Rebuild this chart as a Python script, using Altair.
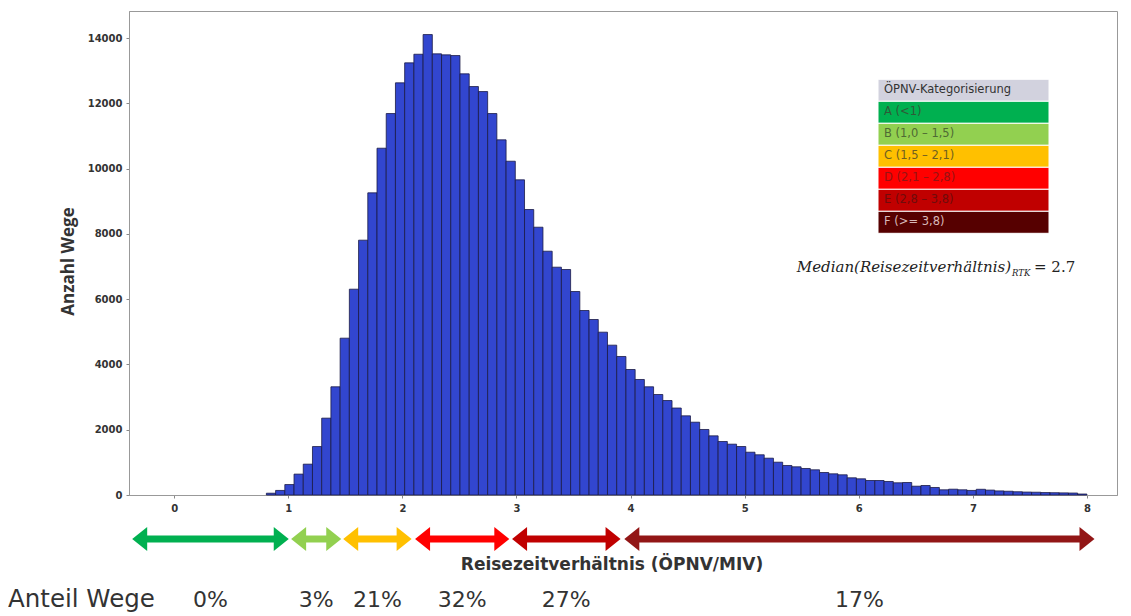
import altair as alt
import pandas as pd

# ---------------- data ----------------
counts = [55, 140, 320, 640, 945, 1485, 2355, 3315, 4805, 6306,
          7808, 9258, 10626, 11688, 12629, 13241, 13505, 14108, 13517, 13486,
          13465, 12904, 12515, 12362, 11688, 10882, 10227, 9657, 8747, 8205,
          7470, 6980, 6909, 6235, 5653, 5377, 4989, 4591, 4244, 3845,
          3539, 3315, 3079, 2895, 2665, 2426, 2231, 2007, 1813, 1639,
          1557, 1486, 1311, 1232, 1128, 1005, 904, 864, 812, 772,
          689, 649, 619, 527, 496, 444, 444, 414, 374, 383,
          270, 291, 230, 159, 178, 159, 140, 175, 150, 125,
          115, 100, 90, 85, 75, 70, 65, 60, 30]
BIN_START = 0.808
BIN_WIDTH = 0.0808

x_ticks = [0, 1, 2, 3, 4, 5, 6, 7, 8]
y_ticks = [0, 2000, 4000, 6000, 8000, 10000, 12000, 14000]

legend_title = "ÖPNV-Kategorisierung"
cat_labels = ["A (<1)", "B (1,0 – 1,5)", "C (1,5 – 2,1)", "D (2,1 – 2,8)",
              "E (2,8 – 3,8)", "F (>= 3,8)"]
cat_colors = ["#00B050", "#92D050", "#FFC000", "#FF0000", "#C00000", "#560000"]
cat_text_colors = ["#2f5a38", "#4f6a34", "#6f5f20", "#961414", "#6e0c0c", "#d8b8b8"]

arrow_colors = ["#00B050", "#92D050", "#FFC000", "#FF0000", "#C00000", "#921616"]
arrow_from = [-0.368, 1.025, 1.481, 2.111, 2.961, 3.945]
arrow_to = [1.004, 1.464, 2.081, 2.937, 3.912, 8.066]
shares = ["0%", "3%", "21%", "32%", "27%", "17%"]

median_value = 2.7

# ---------------- tables ----------------
bars = pd.DataFrame({
    "x0": [BIN_START + i * BIN_WIDTH for i in range(len(counts))],
    "count": counts,
})
bars["x1"] = bars["x0"] + BIN_WIDTH

legend_df = pd.DataFrame({
    "row": list(range(len(cat_labels) + 1)),
    "label": [legend_title] + cat_labels,
    "fill": ["#D2D2DE"] + cat_colors,
    "tcolor": ["#333333"] + cat_text_colors,
})

arrows = pd.DataFrame({
    "from": arrow_from, "to": arrow_to, "color": arrow_colors, "share": shares,
})

# layout constants (pixels, plot coordinates)
W, H = 988, 484
X_DOMAIN = [-0.396, 8.263]
Y_DOMAIN = [0, 14830]
ARROW_Y = 528
LEG_X0, LEG_X1, LEG_Y0, LEG_ROW = 749, 920, 68.3, 22

xs = alt.Scale(domain=X_DOMAIN, nice=False, zero=False)
ys = alt.Scale(domain=Y_DOMAIN, nice=False)

LABEL_FONT = "DejaVu Sans"

hist = alt.Chart(bars).mark_bar(
    fill="#3246CF", stroke="#1a1a45", strokeWidth=0.8, opacity=1
).encode(
    x=alt.X("x0:Q", scale=xs, axis=alt.Axis(
        values=x_ticks, title=None, grid=False, labelFont=LABEL_FONT,
        labelFontWeight="bold", labelFontSize=10, labelColor="#333",
        tickSize=3, tickColor="#888", domainColor="#999", labelPadding=5,
        format="d")),
    x2="x1:Q",
    y=alt.Y("count:Q", scale=ys, axis=alt.Axis(
        values=y_ticks, title="Anzahl Wege", grid=False, labelFont=LABEL_FONT,
        labelFontWeight="bold", labelFontSize=10, labelColor="#333",
        tickSize=3, tickColor="#888", domainColor="#999", labelPadding=4,
        format="d", titleFont="Open Sans", titleFontSize=17,
        titleFontWeight="bold", titleColor="#333", titleX=-61, titleY=250,
        titleAngle=270, titleAlign="center", titleBaseline="middle")),
    y2=alt.datum(0),
)

legend_rects = alt.Chart(legend_df).transform_calculate(
    py0=f"{LEG_Y0} + datum.row * {LEG_ROW}",
    py1=f"{LEG_Y0} + (datum.row + 1) * {LEG_ROW}",
).mark_rect(stroke="white", strokeWidth=1).encode(
    x=alt.value(LEG_X0), x2=alt.value(LEG_X1),
    y=alt.Y("py0:Q", scale=None), y2="py1:Q",
    fill=alt.Color("fill:N", scale=None),
)

legend_text = alt.Chart(legend_df).transform_calculate(
    py=f"{LEG_Y0} + (datum.row + 0.5) * {LEG_ROW}",
).mark_text(align="left", baseline="middle", font="DejaVu Sans", fontSize=11.5).encode(
    x=alt.value(LEG_X0 + 6),
    y=alt.Y("py:Q", scale=None),
    text="label:N",
    color=alt.Color("tcolor:N", scale=None),
)

median_df = pd.DataFrame({"t": ["Median(Reisezeitverhältnis)"], "s": ["RTK"],
                          "e": [f"= {median_value}"]})
med_main = alt.Chart(median_df).mark_text(
    align="right", baseline="alphabetic", font="DejaVu Serif",
    fontStyle="italic", fontSize=15, color="#222"
).encode(x=alt.value(882), y=alt.value(261), text="t:N")
med_sub = alt.Chart(median_df).mark_text(
    align="left", baseline="alphabetic", font="DejaVu Serif",
    fontStyle="italic", fontSize=8.5, color="#222"
).encode(x=alt.value(883), y=alt.value(265), text="s:N")
med_eq = alt.Chart(median_df).mark_text(
    align="left", baseline="alphabetic", font="DejaVu Serif",
    fontSize=15, color="#222"
).encode(x=alt.value(905), y=alt.value(261), text="e:N")

HEAD = 576  # symbol area -> 24 px box
right_head = "M -1.25 -1 L 0 0 L -1.25 1 Z"
left_head = "M 1.25 -1 L 0 0 L 1.25 1 Z"

shafts = alt.Chart(arrows).mark_rule(strokeWidth=7, xOffset=12, x2Offset=-12).encode(
    x=alt.X("from:Q", scale=xs), x2="to:Q", y=alt.value(ARROW_Y),
    color=alt.Color("color:N", scale=None),
)
heads_r = alt.Chart(arrows).mark_point(
    shape=right_head, size=HEAD, filled=True, opacity=1, strokeWidth=0
).encode(x=alt.X("to:Q", scale=xs), y=alt.value(ARROW_Y),
         color=alt.Color("color:N", scale=None))
heads_l = alt.Chart(arrows).mark_point(
    shape=left_head, size=HEAD, filled=True, opacity=1, strokeWidth=0
).encode(x=alt.X("from:Q", scale=xs), y=alt.value(ARROW_Y),
         color=alt.Color("color:N", scale=None))

BOTTOM_Y = 589
share_text = alt.Chart(arrows).transform_calculate(
    mid="(datum['from'] + datum['to']) / 2"
).mark_text(baseline="middle", font="DejaVu Sans", fontSize=22, color="#333").encode(
    x=alt.X("mid:Q", scale=xs), y=alt.value(BOTTOM_Y), text="share:N",
)

label_df = pd.DataFrame({"a": ["Anteil Wege"], "b": ["Reisezeitverhältnis (ÖPNV/MIV)"]})
anteil = alt.Chart(label_df).mark_text(
    align="left", baseline="middle", font="DejaVu Sans", fontSize=24.5, color="#333"
).encode(x=alt.value(-121), y=alt.value(BOTTOM_Y), text="a:N")
xtitle = alt.Chart(label_df).mark_text(
    align="center", baseline="middle", font="DejaVu Sans", fontSize=17,
    fontWeight="bold", color="#333"
).encode(x=alt.value(483), y=alt.value(554), text="b:N")

chart = alt.layer(
    hist, legend_rects, legend_text, med_main, med_sub, med_eq,
    shafts, heads_r, heads_l, share_text, anteil, xtitle,
).properties(
    width=W, height=H,
    padding={"left": 121, "top": 3, "right": 6, "bottom": 120},
    autosize=alt.AutoSizeParams(type="none"),
    background="white",
).configure_view(stroke="#999", strokeWidth=1)

chart.save("out.html", embed_options={"renderer": "svg", "actions": False})
